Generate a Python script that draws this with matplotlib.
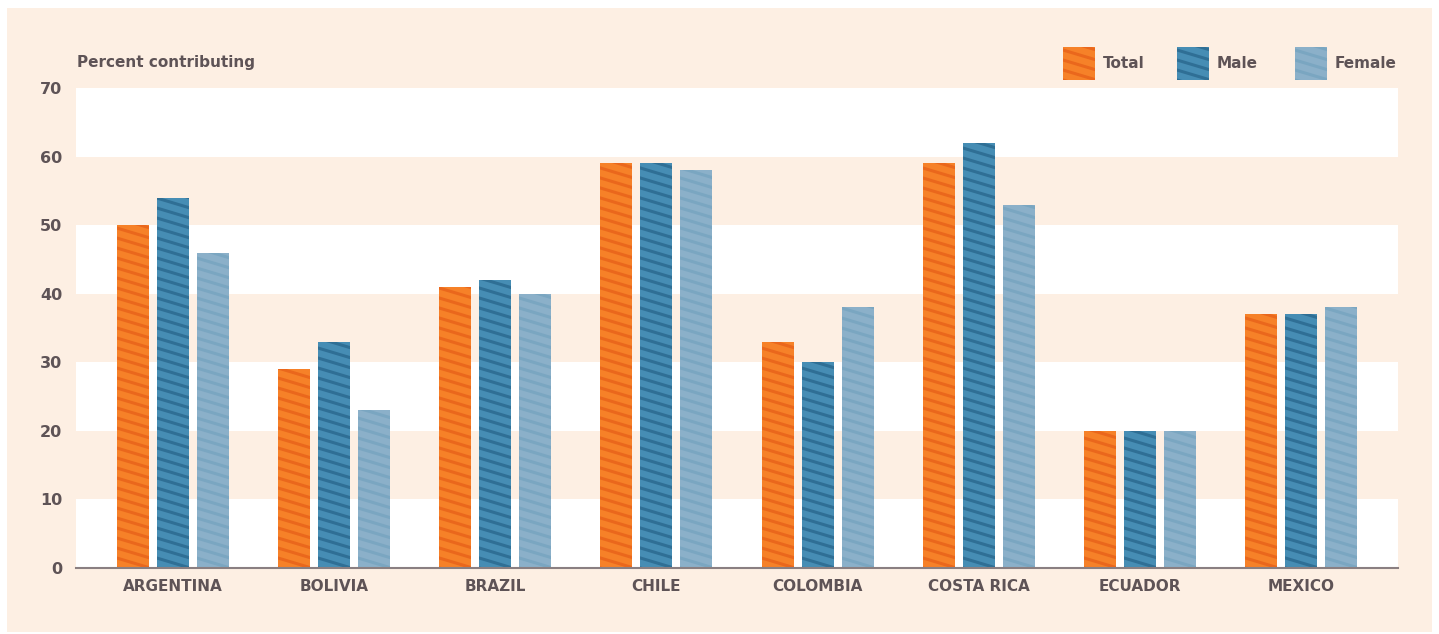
import numpy as np
import matplotlib
matplotlib.use('Agg')
import matplotlib.pyplot as plt
from matplotlib.patches import Rectangle
from matplotlib.collections import LineCollection
from matplotlib.transforms import IdentityTransform

# Data
countries = ['ARGENTINA', 'BOLIVIA', 'BRAZIL', 'CHILE', 'COLOMBIA', 'COSTA RICA', 'ECUADOR', 'MEXICO']
total = [50, 29, 41, 59, 33, 59, 20, 37]
male = [54, 33, 42, 59, 30, 62, 20, 37]
female = [46, 23, 40, 58, 38, 53, 20, 38]
series_names = ['Total', 'Male', 'Female']
y_ticks = [0, 10, 20, 30, 40, 50, 60, 70]

fills = ['#F68128', '#468DB4', '#8BB0C9']
stripes = ['#EA671C', '#2F6F95', '#7AA6C1']
text_col = '#5E5356'
peach = '#FDEFE3'

plt.rcParams['font.family'] = ['DejaVu Sans']
fw = 'bold'
fs = 11

W, H = 1439, 634
fig = plt.figure(figsize=(W / 100, H / 100), dpi=100)
fig.patch.set_facecolor('white')
fig.add_artist(Rectangle((7 / W, 2 / H), 1425 / W, 624 / H, transform=fig.transFigure,
                         facecolor=peach, edgecolor='none', zorder=-10))

ax = fig.add_axes([76 / W, 1 - 568 / H, 1322 / W, 480 / H])
ax.set_facecolor(peach)
for lo in range(0, 70, 20):
    ax.axhspan(lo, lo + 10, color='white', zorder=0, lw=0)


def add_stripes(patch, color, container):
    # diagonal stripes drawn in pixel space, clipped to the patch
    pts = patch.get_transform().transform(patch.get_path().vertices)
    x0, x1 = pts[:, 0].min(), pts[:, 0].max()
    y0, y1 = pts[:, 1].min(), pts[:, 1].max()
    slope = 0.3
    segs = []
    yy = y0 - 20
    while yy < y1 + slope * (x1 - x0) + 20:
        segs.append([(x0 - 2, yy + slope * 2), (x1 + 2, yy - slope * (x1 - x0 + 2))])
        yy += 10
    lc = LineCollection(segs, colors=color, linewidths=2.2, transform=IdentityTransform(),
                        zorder=patch.get_zorder() + 0.1)
    container.add_artist(lc)
    lc.set_clip_path(patch)


x = np.arange(len(countries))
bw = 0.198
off = 0.248
ax.set_xlim(-0.6, len(countries) - 0.4)
ax.set_ylim(0, 70)

all_bars = []
for i, vals in enumerate([total, male, female]):
    bars = ax.bar(x + (i - 1) * off, vals, width=bw, color=fills[i], zorder=2, lw=0)
    all_bars.append((bars, i))

for bars, i in all_bars:
    for b in bars:
        add_stripes(b, stripes[i], ax)

ax.set_yticks(y_ticks)
ax.set_yticklabels([str(v) for v in y_ticks], fontsize=fs + 0.5, color=text_col, fontweight=fw)
ax.set_xticks(x)
ax.set_xticklabels(countries, fontsize=fs, color=text_col, fontweight=fw)
ax.tick_params(axis='both', length=0)
ax.tick_params(axis='y', pad=10)
ax.tick_params(axis='x', pad=8)
for s in ['top', 'right', 'left']:
    ax.spines[s].set_visible(False)
ax.spines['bottom'].set_color('#8A7F81')
ax.spines['bottom'].set_linewidth(1.5)
ax.spines['bottom'].set_zorder(3)

fig.text(77 / W, 1 - 63 / H, 'Percent contributing', fontsize=fs, color=text_col,
         fontweight=fw, va='center', ha='left')

# legend built by hand
leg_x = [1063, 1177, 1295]
for i, name in enumerate(series_names):
    r = Rectangle((leg_x[i] / W, 1 - 80 / H), 32 / W, 33 / H, transform=fig.transFigure,
                  facecolor=fills[i], edgecolor='none', zorder=2)
    fig.add_artist(r)
    add_stripes(r, stripes[i], fig)
    fig.text((leg_x[i] + 40) / W, 1 - 63 / H, name, fontsize=fs, color=text_col,
             fontweight=fw, va='center', ha='left')

fig.savefig('out.png', dpi=100, facecolor=fig.get_facecolor())
